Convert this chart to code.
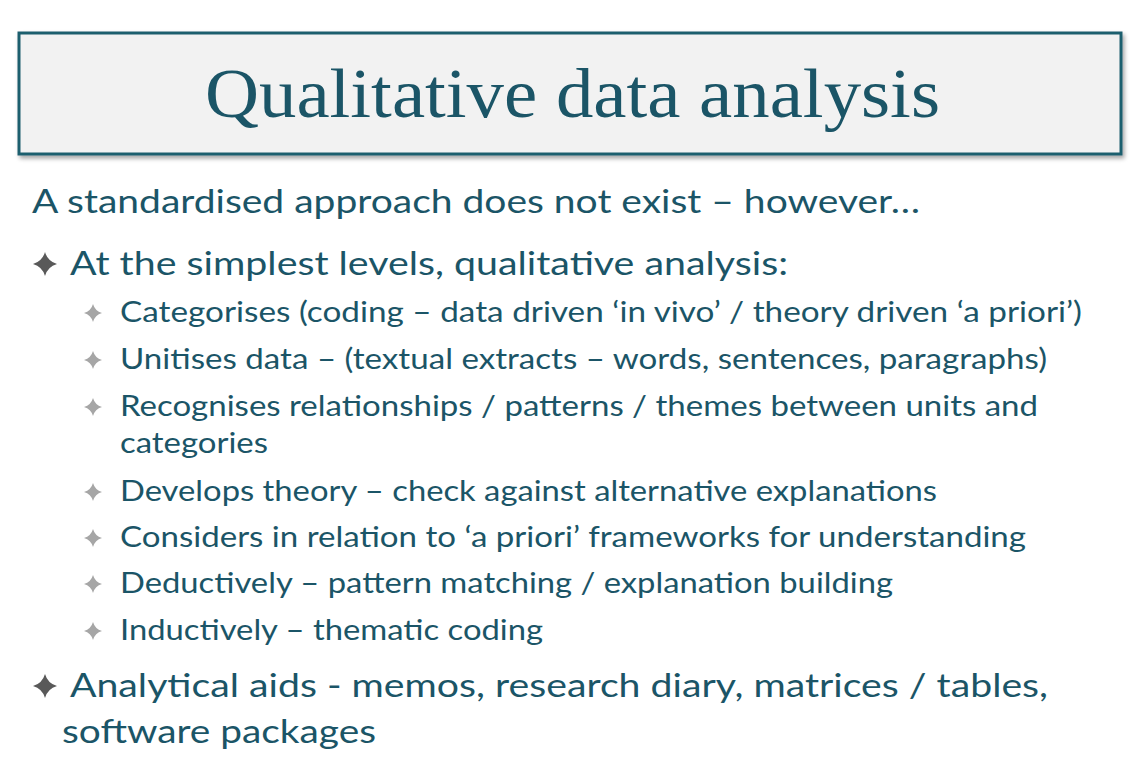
import React from "react";

const title = "Qualitative data analysis";
const intro = "A standardised approach does not exist – however…";
const level1 = [
  { lines: ["At the simplest levels, qualitative analysis:"], ends: [788], y: 275 },
  { lines: ["Analytical aids - memos, research diary, matrices / tables,", "software packages"], ends: [1048, 376], y: 697 },
];
const level2 = [
  { lines: ["Categorises (coding – data driven ‘in vivo’ / theory driven ‘a priori’)"], ends: [1082], y: 322 },
  { lines: ["Unitises data – (textual extracts – words, sentences, paragraphs)"], ends: [1047], y: 369 },
  { lines: ["Recognises relationships / patterns / themes between units and", "categories"], ends: [1038, 268], y: 416 },
  { lines: ["Develops theory – check against alternative explanations"], ends: [937], y: 501 },
  { lines: ["Considers in relation to ‘a priori’ frameworks for understanding"], ends: [1026], y: 547 },
  { lines: ["Deductively – pattern matching / explanation building"], ends: [893], y: 593 },
  { lines: ["Inductively – thematic coding"], ends: [543], y: 640 },
];

const TEAL = "#1b5567";
const FONT = "Lato, 'Open Sans', sans-serif";

function star(cx: number, cy: number, r: number) {
  const k = r * 0.22;
  return `M${cx},${cy - r} Q${cx + k},${cy - k} ${cx + r},${cy} Q${cx + k},${cy + k} ${cx},${cy + r} Q${cx - k},${cy + k} ${cx - r},${cy} Q${cx - k},${cy - k} ${cx},${cy - r}Z`;
}

export default function App() {
  return (
    <svg width={1140} height={762} style={{ position: "absolute", left: 0, top: 0 }}>
      <defs>
        <filter id="sh" x="-5%" y="-20%" width="110%" height="140%">
          <feDropShadow dx="2" dy="3" stdDeviation="2" floodColor="#000" floodOpacity="0.35" />
        </filter>
      </defs>
      <rect width={1140} height={762} fill="#fff" />
      <rect x={19} y={33} width={1102} height={121} fill="#f2f2f2" stroke="#1e5e6e" strokeWidth={3} filter="url(#sh)" />
      <text x={205} y={117} fontFamily="'Liberation Serif', 'DejaVu Serif', serif" fontSize={70} fill={TEAL} textLength={735} lengthAdjust="spacingAndGlyphs">{title}</text>
      <text x={32} y={213} fontFamily={FONT} fontSize={33} fill={TEAL} textLength={888} lengthAdjust="spacingAndGlyphs">{intro}</text>
      {level1.map((it, i) => (
        <g key={"a" + i}>
          <path d={star(45, it.y - 11, 12)} fill="#595959" />
          {it.lines.map((l, j) => {
            const x = j === 0 ? 70 : 62;
            return (
              <text key={j} x={x} y={it.y + j * 46} fontFamily={FONT} fontSize={33} fill={TEAL} textLength={it.ends[j] - x} lengthAdjust="spacingAndGlyphs">{l}</text>
            );
          })}
        </g>
      ))}
      {level2.map((it, i) => (
        <g key={"b" + i}>
          <path d={star(93, it.y - 9, 9)} fill="#a6a6a6" />
          {it.lines.map((l, j) => (
            <text key={j} x={120} y={it.y + j * 37} fontFamily={FONT} fontSize={28} fill={TEAL} textLength={it.ends[j] - 120} lengthAdjust="spacingAndGlyphs">{l}</text>
          ))}
        </g>
      ))}
    </svg>
  );
}
